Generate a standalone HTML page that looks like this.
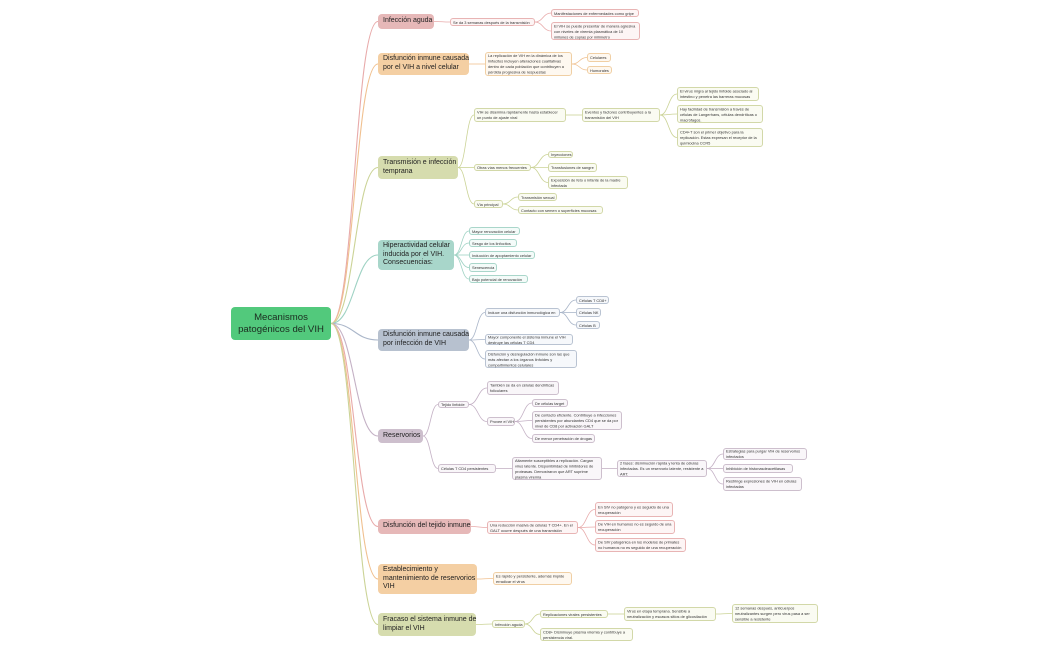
<!DOCTYPE html>
<html><head><meta charset="utf-8">
<style>
html,body{margin:0;padding:0;background:#fff;}
body{width:1050px;height:650px;position:relative;overflow:hidden;font-family:"Liberation Sans",sans-serif;}
.n{position:absolute;box-sizing:border-box;border-radius:3px;color:#333;padding:0 2px;border:0.8px solid;display:flex;align-items:center;}
.n>span{display:block;font-size:7.8px;line-height:11px;transform:scale(.5);transform-origin:0 50%;width:200%;flex:none;}
.b{position:absolute;box-sizing:border-box;border-radius:4px;font-size:7px;line-height:8.8px;color:#222;padding:0 5px;display:flex;align-items:center;white-space:nowrap;}
.p{border-color:#e8b4b4;background:#fdf5f5;}
.o{border-color:#f0cfa4;background:#fef8f0;}
.g{border-color:#d2d8a8;background:#fafbf2;}
.t{border-color:#a9d6ca;background:#f4fbf9;}
.s{border-color:#b9c3d2;background:#f6f8fb;}
.m{border-color:#cdbfcd;background:#f9f6f9;}
.w>span{white-space:nowrap;}
svg{position:absolute;left:0;top:0;}
</style></head><body>
<svg id="sv" width="1050" height="650"></svg>

<div class="b" id="root" style="left:231px;top:307px;width:100px;height:33px;background:#52c97c;font-size:9.6px;line-height:12px;justify-content:center;text-align:center;color:#1b2b1f;">Mecanismos<br>patogénicos del VIH</div>

<div class="b" id="b1" style="left:378px;top:14px;width:56px;height:15px;background:#e6b8b8;">Infección aguda</div>
<div class="b" id="b2" style="left:378px;top:53px;width:91px;height:22px;background:#f4cfa3;">Disfunción inmune causada<br>por el VIH a nivel celular</div>
<div class="b" id="b3" style="left:378px;top:156px;width:80px;height:23px;background:#d6dcae;">Transmisión e infección<br>temprana</div>
<div class="b" id="b4" style="left:378px;top:240px;width:76px;height:30px;background:#a8d6ca;">Hiperactividad celular<br>inducida por el VIH.<br>Consecuencias:</div>
<div class="b" id="b5" style="left:378px;top:329px;width:91px;height:22px;background:#b7c1cf;">Disfunción inmune causada<br>por infección de VIH</div>
<div class="b" id="b6" style="left:378px;top:429px;width:45px;height:14px;background:#cdbfcd;">Reservorios</div>
<div class="b" id="b7" style="left:378px;top:519px;width:93px;height:15px;background:#e6b8b8;">Disfunción del tejido inmune</div>
<div class="b" id="b8" style="left:378px;top:564px;width:99px;height:30px;background:#f4cfa3;">Establecimiento y<br>mantenimiento de reservorios<br>VIH</div>
<div class="b" id="b9" style="left:378px;top:613px;width:98px;height:23px;background:#d6dcae;">Fracaso el sistema inmune de<br>limpiar el VIH</div>

<div class="n p w" id="a1" style="left:450px;top:18px;width:85px;height:8px;"><span>Se da 3 semanas después de la transmisión</span></div>
<div class="n p w" id="a2" style="left:551px;top:9px;width:88px;height:8px;"><span>Manifestaciones de enfermedades como gripe</span></div>
<div class="n p" id="a3" style="left:551px;top:22px;width:89px;height:18px;"><span>El VIH se puede presentar de manera agresiva con niveles de viremia plasmática de 10 millones de copias por milímetro</span></div>
<div class="n o" id="c1" style="left:485px;top:52px;width:87px;height:24px;"><span>La replicación de VIH en la dinámica de los linfocitos incluyen alteraciones cualitativas dentro de cada población que contribuyen a pérdida progresiva de respuestas</span></div>
<div class="n o w" id="c2" style="left:587px;top:53px;width:24px;height:9px;"><span>Celulares</span></div>
<div class="n o w" id="c3" style="left:587px;top:66px;width:25px;height:8px;"><span>Humorales</span></div>
<div class="n g" id="d1" style="left:474px;top:108px;width:92px;height:14px;"><span>VIH se disemina rápidamente hasta establecer un punto de ajuste viral</span></div>
<div class="n g" id="d2" style="left:582px;top:108px;width:78px;height:14px;"><span>Eventos y factores contribuyentes a la transmisión del VIH</span></div>
<div class="n g" id="d3" style="left:677px;top:87px;width:82px;height:14px;"><span>El virus migra al tejido linfoide asociado al intestino y penetra las barreras mucosas</span></div>
<div class="n g" id="d4" style="left:677px;top:105px;width:86px;height:18px;"><span>Hay facilidad de transmisión a través de células de Langerhans, células dendríticas o macrófagos.</span></div>
<div class="n g" id="d5" style="left:677px;top:128px;width:86px;height:19px;"><span>CD4+T son el primer objetivo para la replicación. Estas expresan el receptor de la quimiocina CCR5</span></div>
<div class="n g w" id="d6" style="left:474px;top:164px;width:57px;height:7px;"><span>Otras vías menos frecuentes</span></div>
<div class="n g w" id="d7" style="left:548px;top:151px;width:25px;height:7px;"><span>Inyecciones</span></div>
<div class="n g w" id="d8" style="left:548px;top:163px;width:49px;height:9px;"><span>Transfusiones de sangre</span></div>
<div class="n g" id="d9" style="left:548px;top:176px;width:80px;height:13px;"><span>Exposición de feto o infante de la madre infectada</span></div>
<div class="n g w" id="d10" style="left:474px;top:200px;width:29px;height:8px;"><span>Vía principal</span></div>
<div class="n g w" id="d11" style="left:518px;top:193px;width:39px;height:8px;"><span>Transmisión sexual</span></div>
<div class="n g w" id="d12" style="left:518px;top:206px;width:85px;height:8px;"><span>Contacto con semen o superficies mucosas</span></div>
<div class="n t w" id="e1" style="left:469px;top:227px;width:51px;height:8px;"><span>Mayor renovación celular</span></div>
<div class="n t w" id="e2" style="left:469px;top:239px;width:48px;height:8px;"><span>Sesgo de los linfocitos</span></div>
<div class="n t w" id="e3" style="left:469px;top:251px;width:66px;height:8px;"><span>Inducción de apoptamiento celular</span></div>
<div class="n t w" id="e4" style="left:469px;top:263px;width:28px;height:9px;"><span>Senescencia</span></div>
<div class="n t w" id="e5" style="left:469px;top:275px;width:59px;height:8px;"><span>Bajo potencial de renovación</span></div>
<div class="n s w" id="f1" style="left:485px;top:308px;width:75px;height:9px;"><span>Induce una disfunción inmunológica en</span></div>
<div class="n s w" id="f2" style="left:576px;top:296px;width:33px;height:8px;"><span>Células T CD8+</span></div>
<div class="n s w" id="f3" style="left:576px;top:308px;width:25px;height:9px;"><span>Células NK</span></div>
<div class="n s w" id="f4" style="left:576px;top:321px;width:24px;height:8px;"><span>Células B</span></div>
<div class="n s" id="f5" style="left:485px;top:334px;width:88px;height:11px;"><span>Mayor componente el sistema inmune el VIH destruye las células T CD4</span></div>
<div class="n s" id="f6" style="left:485px;top:350px;width:92px;height:18px;"><span>Disfunción y desregulación inmune son las que más afectan a los órganos linfoides y compartimientos celulares</span></div>
<div class="n m w" id="g1" style="left:438px;top:401px;width:31px;height:7px;"><span>Tejido linfoide</span></div>
<div class="n m" id="g2" style="left:487px;top:381px;width:72px;height:14px;"><span>También se da en células dendríticas foliculares</span></div>
<div class="n m w" id="g3" style="left:487px;top:417px;width:28px;height:9px;"><span>Provee el VIH</span></div>
<div class="n m w" id="g4" style="left:532px;top:399px;width:36px;height:8px;"><span>De células target</span></div>
<div class="n m" id="g5" style="left:532px;top:411px;width:90px;height:19px;"><span>De contacto eficiente. Contribuye a infecciones persistentes por abundantes CD4 que se da por nivel de CD8 por activación GALT</span></div>
<div class="n m w" id="g6" style="left:532px;top:434px;width:63px;height:9px;"><span>De menor penetración de drogas</span></div>
<div class="n m w" id="g7" style="left:438px;top:464px;width:58px;height:9px;"><span>Células T CD4 persistentes</span></div>
<div class="n m" id="g8" style="left:512px;top:457px;width:90px;height:23px;"><span>Altamente susceptibles a replicación. Cargan virus latente. Disponibilidad de inhibidores de proteasas. Demostraron que ART suprime plasma viremia</span></div>
<div class="n m" id="g9" style="left:617px;top:460px;width:90px;height:17px;"><span>2 fases: disminución rápida y lenta de células infectadas. Es un reservorio latente, resistente a ART.</span></div>
<div class="n m" id="g10" style="left:723px;top:448px;width:84px;height:12px;"><span>Estrategias para purgar VIH de reservorios infectados</span></div>
<div class="n m w" id="g11" style="left:723px;top:464px;width:70px;height:9px;"><span>Inhibición de histonasdeacetilasas</span></div>
<div class="n m" id="g12" style="left:723px;top:477px;width:79px;height:14px;"><span>Restringe expresiones de VIH en células infectadas</span></div>
<div class="n p" id="h1" style="left:487px;top:521px;width:91px;height:13px;"><span>Una reducción masiva de células T CD4+. En el GALT ocurre después de una transmisión</span></div>
<div class="n p" id="h2" style="left:595px;top:502px;width:78px;height:15px;"><span>En SIV no patógeno y es seguido de una recuperación</span></div>
<div class="n p" id="h3" style="left:595px;top:520px;width:80px;height:14px;"><span>De VIH en humanos no es seguido de una recuperación</span></div>
<div class="n p" id="h4" style="left:595px;top:538px;width:91px;height:14px;"><span>De SIV patogénica en los modelos de primates no humanos no es seguido de una recuperación</span></div>
<div class="n o" id="i1" style="left:493px;top:572px;width:79px;height:13px;"><span>Es rápido y persistente, además impide erradicar el virus</span></div>
<div class="n g w" id="j1" style="left:492px;top:620px;width:33px;height:8px;"><span>Infección aguda</span></div>
<div class="n g w" id="j2" style="left:540px;top:610px;width:68px;height:8px;"><span>Replicaciones virales persistentes</span></div>
<div class="n g" id="j3" style="left:624px;top:607px;width:92px;height:14px;"><span>Virus en etapa temprana. Sensible a neutralización y escasos sitios de glicosilación</span></div>
<div class="n g" id="j4" style="left:732px;top:604px;width:86px;height:19px;"><span>12 semanas después, anticuerpos neutralizantes surgen pero virus pasa a ser sensible a resistente</span></div>
<div class="n g" id="j5" style="left:540px;top:628px;width:93px;height:13px;"><span>CD8+ Disminuye plasma viremia y contribuye a persistencia viral.</span></div>

<script>
var P="#e8aaaa",O="#f0c08f",G="#cbd396",T="#9ed2c3",S="#aab6c9",M="#c4b1c5";
var E=[["root","b1",P],["root","b2",O],["root","b3",G],["root","b4",T],["root","b5",S],["root","b6",M],["root","b7",P],["root","b8",O],["root","b9",G],
["b1","a1",P],["a1","a2",P],["a1","a3",P],
["b2","c1",O],["c1","c2",O],["c1","c3",O],
["b3","d1",G],["d1","d2",G],["d2","d3",G],["d2","d4",G],["d2","d5",G],["b3","d6",G],["d6","d7",G],["d6","d8",G],["d6","d9",G],["b3","d10",G],["d10","d11",G],["d10","d12",G],
["b4","e1",T],["b4","e2",T],["b4","e3",T],["b4","e4",T],["b4","e5",T],
["b5","f1",S],["f1","f2",S],["f1","f3",S],["f1","f4",S],["b5","f5",S],["b5","f6",S],
["b6","g1",M],["g1","g2",M],["g1","g3",M],["g3","g4",M],["g3","g5",M],["g3","g6",M],["b6","g7",M],["g7","g8",M],["g8","g9",M],["g9","g10",M],["g9","g11",M],["g9","g12",M],
["b7","h1",P],["h1","h2",P],["h1","h3",P],["h1","h4",P],
["b8","i1",O],
["b9","j1",G],["j1","j2",G],["j2","j3",G],["j3","j4",G],["j1","j5",G]];
var sv=document.getElementById("sv"),h="";
E.forEach(function(e){
 var a=document.getElementById(e[0]),b=document.getElementById(e[1]);
 var x1=a.offsetLeft+a.offsetWidth,y1=a.offsetTop+a.offsetHeight/2;
 var x2=b.offsetLeft,y2=b.offsetTop+b.offsetHeight/2;
 var dx=(x2-x1)*0.5;
 h+='<path d="M'+x1+','+y1+' C'+(x1+dx)+','+y1+' '+(x2-dx)+','+y2+' '+x2+','+y2+'" fill="none" stroke="'+e[2]+'" stroke-width="'+(e[0]=="root"?1.1:0.8)+'"/>';
});
sv.innerHTML=h;
</script>
</body></html>
